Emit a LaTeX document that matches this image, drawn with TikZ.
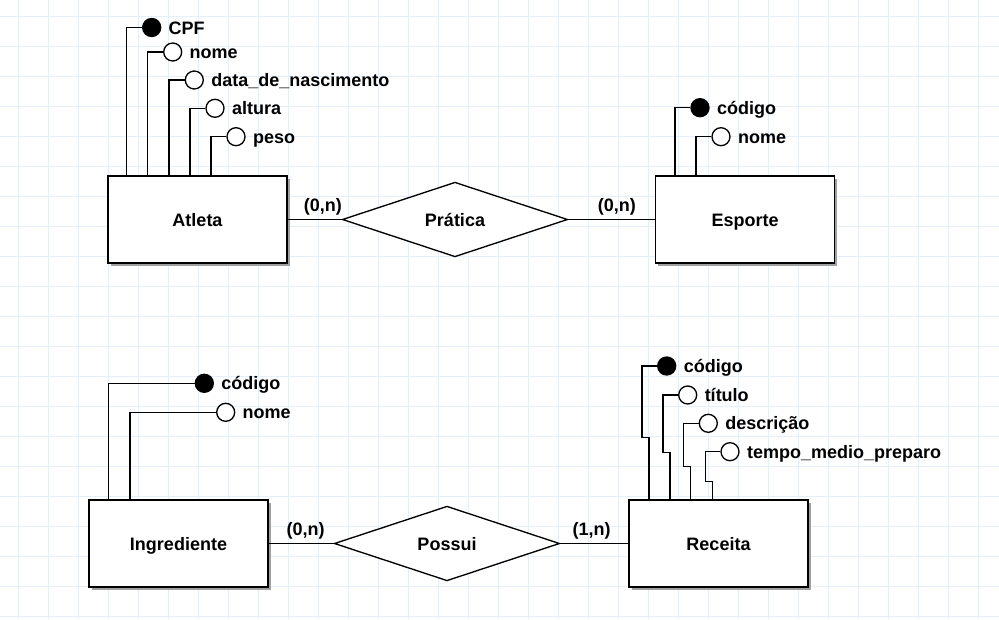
\documentclass[tikz,border=0pt]{standalone}
\usepackage{fontspec}
\setmainfont{Liberation Sans}
\usetikzlibrary{positioning,calc,shapes.geometric,shadows}
\definecolor{gridblue}{HTML}{E6EFF9}
\definecolor{shadowgray}{HTML}{A0A0A0}

\tikzset{
  entity/.style={draw,fill=white,line width=1pt,minimum width=134.25pt,minimum height=65.25pt,
    text height=1em,text depth=0pt,
    drop shadow={shadow xshift=2pt,shadow yshift=-2pt,fill=shadowgray,opacity=1}},
  relation/.style={draw,diamond,aspect=3,fill=white,line width=1pt,minimum width=169pt,minimum height=56pt,
    inner sep=0pt,text height=1em,text depth=0pt},
  keyattr/.style={circle,draw,fill=black,line width=1pt,minimum size=13.5pt,inner sep=0pt},
  attr/.style={circle,draw,fill=white,line width=1pt,minimum size=13.5pt,inner sep=0pt},
  attlabel/.style={text height=1em,text depth=0pt},
  link/.style={line width=1pt},
  card/.style={above=2.5pt,text height=1em,text depth=0pt},
  gridline/.style={gridblue,line width=0.75pt}
}

\begin{document}
\begin{tikzpicture}[x=0.75pt,y=-0.75pt,every node/.style={font=\fontsize{13.5}{16}\selectfont\bfseries}]
\useasboundingbox (0,0) rectangle (999,619);
\fill[white] (0,0) rectangle (999,619);
\foreach \gx in {18.5,48.5,...,978.5}{\draw[gridline] (\gx,0) -- (\gx,619);}
\foreach \gy in {16.5,46.5,...,616.5}{\draw[gridline] (0,\gy) -- (999,\gy);}

% entities and relationships
\node[entity] (atleta) at (197.5,219.5) {Atleta};
\node[relation,right=40.5pt of atleta] (pratica) {Prática};
\node[entity,right=65pt of pratica] (esporte) {Esporte};
\node[entity] (ingred) at (178.5,543.5) {Ingrediente};
\node[relation,right=48.75pt of ingred] (possui) {Possui};
\node[entity,right=51pt of possui] (receita) {Receita};

\draw[link] (atleta.east) -- node[card,pos=0.65] (c1) {(0,n)} (pratica.west);
\draw[link] (pratica.east) -- node[card,pos=0.56] (c2) {(0,n)} (esporte.west);
\draw[link] (ingred.east) -- node[card,pos=0.57] (c3) {(0,n)} (possui.west);
\draw[link] (possui.east) -- node[card,pos=0.46] (c4) {(1,n)} (receita.west);

% Atleta attributes
\node[keyattr] (atl1) at (151.7,27.5) {};
\node[attr] (atl2) at (172.7,52) {};
\node[attr] (atl3) at (194.3,80) {};
\node[attr] (atl4) at (215,108.3) {};
\node[attr] (atl5) at (236,136.7) {};
\node[attlabel,right=2pt of atl1] (atl1txt) {CPF};
\node[attlabel,right=2pt of atl2] (atl2txt) {nome};
\node[attlabel,right=2pt of atl3] (atl3txt) {data\_de\_nascimento};
\node[attlabel,right=2pt of atl4] (atl4txt) {altura};
\node[attlabel,right=2pt of atl5] (atl5txt) {peso};
\foreach \a in {atl1,atl2,atl3,atl4,atl5}{\draw[link] (\a.west) -- ++(-15.5,0) coordinate (bend) -- (bend |- atleta.north);}

% Esporte attributes
\node[keyattr] (esp1) at (700,107.7) {};
\node[attr] (esp2) at (721,136.7) {};
\node[attlabel,right=2pt of esp1] (esp1txt) {código};
\node[attlabel,right=2pt of esp2] (esp2txt) {nome};
\foreach \a in {esp1,esp2}{\draw[link] (\a.west) -- ++(-15.5,0) coordinate (bend) -- (bend |- esporte.north);}

% Ingrediente attributes
\node[keyattr] (ing1) at (204.3,383.3) {};
\node[attr] (ing2) at (225.7,412.3) {};
\node[attlabel,right=2pt of ing1] (ing1txt) {código};
\node[attlabel,right=2pt of ing2] (ing2txt) {nome};
\foreach \a in {ing1,ing2}{\draw[link] (\a.west) -- ++(-86,0) coordinate (bend) -- (bend |- ingred.north);}

% Receita attributes
\node[keyattr] (rec1) at (666.7,366) {};
\node[attr] (rec2) at (687.7,395) {};
\node[attr] (rec3) at (708.3,423.3) {};
\node[attr] (rec4) at (730,451.7) {};
\node[attlabel,right=2pt of rec1] (rec1txt) {código};
\node[attlabel,right=2pt of rec2] (rec2txt) {título};
\node[attlabel,right=2pt of rec3] (rec3txt) {descrição};
\node[attlabel,right=2pt of rec4] (rec4txt) {tempo\_medio\_preparo};
\foreach \a/\dy in {rec1/71.3,rec2/57.7,rec3/43.4,rec4/30}{\draw[link] (\a.west) -- ++(-15,0) -- ++(0,\dy) -- ++(7,0) coordinate (bend) -- (bend |- receita.north);}
\end{tikzpicture}
\end{document}
